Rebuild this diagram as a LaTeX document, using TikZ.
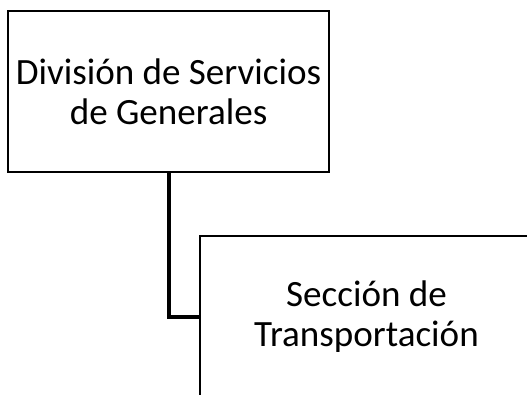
\documentclass[tikz,border=0pt]{standalone}
\usepackage{fontspec}
\setmainfont{Carlito}
\usetikzlibrary{shadows}
\begin{document}
\begin{tikzpicture}[x=0.75pt,y=-0.75pt,
  unit/.style={draw,line width=1.5pt,fill=white,align=center,
    font=\fontsize{27.8}{30}\selectfont,inner sep=0pt,
    drop shadow={shadow xshift=0.8pt,shadow yshift=-0.8pt,opacity=0.25}},
  link/.style={line width=3pt}]
\useasboundingbox (0,0) rectangle (527,394);
\node[unit,minimum width=240.75pt,minimum height=120.75pt](div) at (168.5,91.5)
  {División de Servicios\\de Generales};
\node[unit,minimum width=249.75pt,minimum height=121pt](sec) at (366.5,317)
  {Sección de\\Transportación};
\draw[link](div.south)|-(sec.west);
\end{tikzpicture}
\end{document}
